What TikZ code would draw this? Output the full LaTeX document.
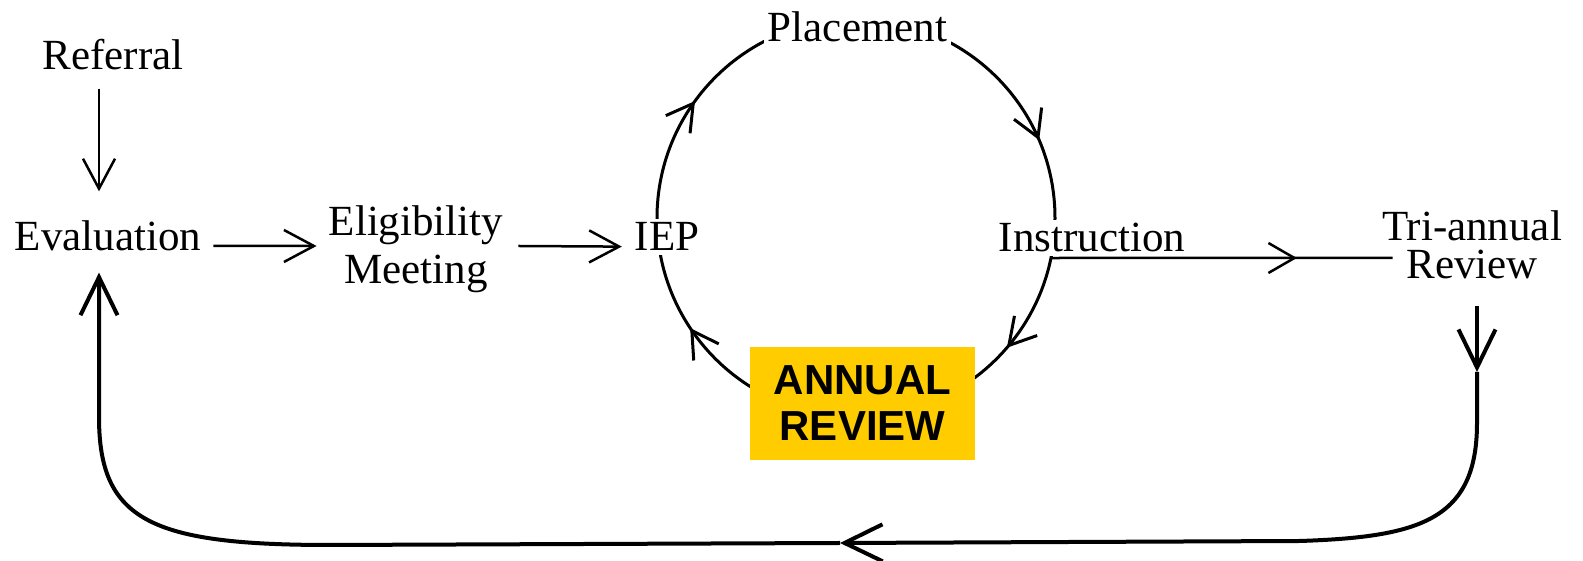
\documentclass[tikz,border=0pt]{standalone}
\usepackage{fontspec}
\setmainfont{Liberation Serif}
\newfontfamily\annualfont{Liberation Sans}
\usetikzlibrary{arrows.meta,decorations.markings,calc}
\definecolor{annualyellow}{HTML}{FFCC00}
\begin{document}
\begin{tikzpicture}[x=1pt,y=1pt,
  lbl/.style={font=\fontsize{43}{48}\selectfont, inner sep=4pt},
  cyc/.style={lbl, fill=white},
  arr/.style={line width=2.5pt, -{Straight Barb[length=30pt,width=32pt]}},
  cycarc/.style={line width=3pt},
  cyctip/.style={decoration={markings, mark=at position #1 with {\arrow[line width=3pt]{Straight Barb[length=26pt,width=30pt]}}}, postaction={decorate}},
  looppath/.style={line width=4pt, -{Straight Barb[length=38pt,width=37pt]}},
  midtip/.style={decoration={markings, mark=at position #1 with {\arrow[line width=2.5pt]{Straight Barb[length=26pt,width=30pt]}}}, postaction={decorate}},
]
\useasboundingbox (0,0) rectangle (1583,561);

% cycle circle
\coordinate (C) at (856,343);
\coordinate (cW) at ($(C)+(180:199)$);
\coordinate (cN) at ($(C)+(90:199)$);
\coordinate (cE) at ($(C)+(0:199)$);
\coordinate (cS) at ($(C)+(-90:199)$);
\coordinate (instrout) at ($(C)+(-11.6:199)$);
\draw[cycarc, cyctip=0.4] (cW) arc[start angle=180, end angle=90, radius=199];
\draw[cycarc, cyctip=0.744] (cN) arc[start angle=90, end angle=0, radius=199];
\draw[cycarc, cyctip=0.452] (cE) arc[start angle=0, end angle=-90, radius=199];
\draw[cycarc, cyctip=0.627] (cS) arc[start angle=-90, end angle=-180, radius=199];

% nodes
\node[lbl, anchor=base] (ref) at (113,491) {Referral};
\node[lbl, anchor=base] (eval) at (108,310) {Evaluation};
\node[lbl, align=center] (elig) at (416,312) {Eligibility\\Meeting};
\node[cyc, anchor=base] (iep) at (667,310) {IEP};
\node[cyc, anchor=base] (place) at (857.5,519) {Placement};
\node[cyc, anchor=base] (instr) at (1092,309) {Instruction};
\node[lbl, align=center, font=\fontsize{43}{39}\selectfont] (tri) at (1472,316.2) {Tri-annual\\Review};
\node[fill=annualyellow, minimum width=225pt, minimum height=113pt, inner sep=0pt,
      align=center, font=\annualfont\bfseries\fontsize{42}{46}\selectfont] (annual) at (862.5,157.5) {ANNUAL\\REVIEW};

% connectors
\draw[arr] ($(ref.south)+(-14,-14)$) -- ($(eval.north)+(-9,25.6)$);
\draw[arr] ($(eval.east)+(8,-9.7)$) -- ($(elig.west)+(-8,3)$);
\draw[arr] ($(elig.east)+(11,3)$) -- ($(iep.west)+(-8.75,-9.7)$);
\draw[line width=2.5pt, midtip=0.72] (instrout) -- ($(tri.west)+(14.75,-13.2)$);

% loop back to evaluation
\coordinate (a1) at (1477,189);
\coordinate (a2) at (840,18);
\draw[looppath] ($(tri.south)+(5,-22.8)$) -- (a1);
\draw[looppath] (a1) -- (1477,138) .. controls (1477,41) and (1420,24) .. (1300,20) -- (a2);
\draw[looppath] (a2) -- (330,16) .. controls (150,16) and (99,41) .. (99,144) -- ($(eval.south)+(-9,-17)$);
\end{tikzpicture}
\end{document}
